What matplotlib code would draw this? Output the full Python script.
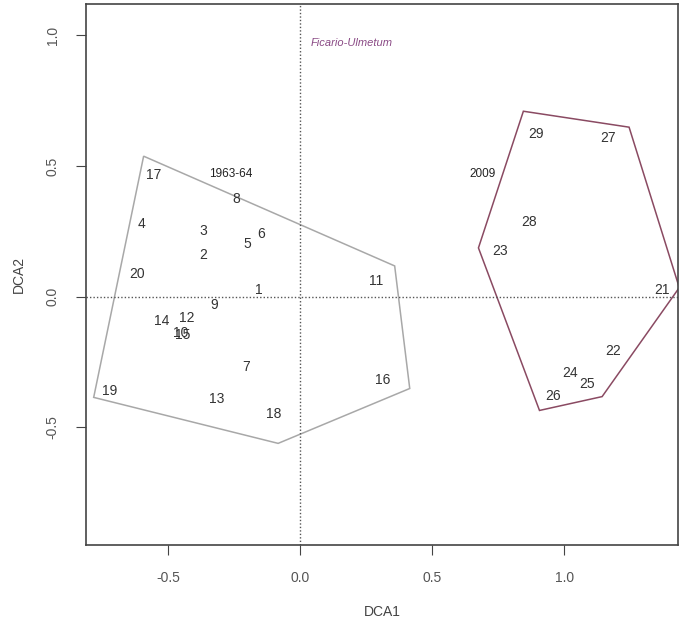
import numpy as np
import matplotlib.pyplot as plt

plt.rcParams['font.family'] = ['Liberation Sans', 'DejaVu Sans']

# site scores (label positions)
site_labels = ['1', '2', '3', '4', '5', '6', '7', '8', '9', '10', '11', '12', '13', '14', '15',
               '16', '17', '18', '19', '20', '21', '22', '23', '24', '25', '26', '27', '28', '29']
dca1 = [-0.155, -0.366, -0.366, -0.60, -0.20, -0.147, -0.204, -0.242, -0.325, -0.452, 0.287,
        -0.43, -0.317, -0.525, -0.446, 0.313, -0.555, -0.098, -0.72, -0.615, 1.37, 1.185,
        0.758, 1.023, 1.087, 0.958, 1.166, 0.868, 0.894]
dca2 = [0.027, 0.160, 0.252, 0.279, 0.202, 0.240, -0.267, 0.374, -0.031, -0.139, 0.061,
        -0.080, -0.393, -0.092, -0.147, -0.317, 0.466, -0.450, -0.359, 0.088, 0.027, -0.206,
        0.176, -0.29, -0.332, -0.378, 0.607, 0.286, 0.622]

# hull outlines for the two survey years
hull_1963_x = [-0.592, 0.358, 0.415, -0.083, -0.781]
hull_1963_y = [0.538, 0.118, -0.351, -0.561, -0.385]
hull_2009_x = [0.845, 1.245, 1.435, 1.143, 0.906, 0.675]
hull_2009_y = [0.71, 0.649, 0.035, -0.382, -0.435, 0.187]

group_names = ['1963-64', '2009']
group_x = [-0.264, 0.69]
group_y = [0.469, 0.469]

fig = plt.figure(figsize=(6.8, 6.29), dpi=100)
ax = fig.add_axes([0.1265, 0.1335, 0.8705, 0.860])

ax.axhline(0, color='#555555', lw=1, ls=(0, (1, 1.5)))
ax.axvline(0, color='#555555', lw=1, ls=(0, (1, 1.5)))

ax.fill(hull_1963_x, hull_1963_y, facecolor='none', edgecolor='#a8a8a8', lw=1.1)
ax.fill(hull_2009_x, hull_2009_y, facecolor='none', edgecolor='#8a4a62', lw=1.1)

for lab, x, y in zip(site_labels, dca1, dca2):
    ax.text(x, y, lab, ha='center', va='center', fontsize=10, color='#333333')

for lab, x, y in zip(group_names, group_x, group_y):
    ax.text(x, y, lab, ha='center', va='center', fontsize=8.5, color='#222222')

ax.text(0.04, 0.97, 'Ficario-Ulmetum', fontsize=8, style='italic', color='#8a4a85',
        ha='left', va='center')

ax.set_xlim(-0.81, 1.43)
ax.set_ylim(-0.95, 1.12)
ax.set_xticks([-0.5, 0.0, 0.5, 1.0])
ax.set_xticklabels(['-0.5', '0.0', '0.5', '1.0'])
ax.set_yticks([-0.5, 0.0, 0.5, 1.0])
ax.set_yticklabels(['-0.5', '0.0', '0.5', '1.0'], rotation=90, va='center')
ax.tick_params(length=7, color='#444444', labelcolor='#555555', labelsize=10, pad=12)
for s in ax.spines.values():
    s.set_color('#444444')
    s.set_linewidth(1.2)

ax.set_xlabel('DCA1', fontsize=10, color='#444444', labelpad=14)
ax.set_ylabel('DCA2', fontsize=10, color='#444444', labelpad=14)

fig.savefig('out.png', dpi=100)
